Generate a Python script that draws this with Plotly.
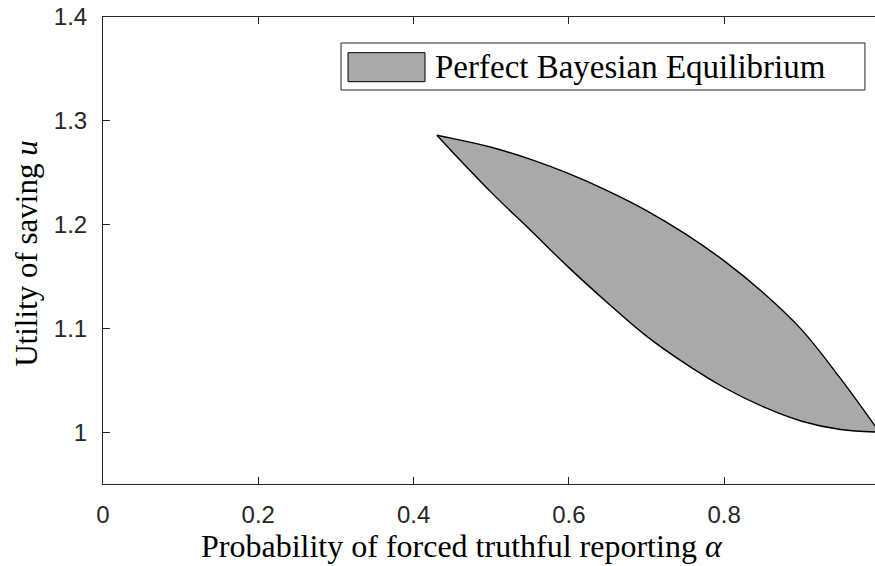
import plotly.graph_objects as go

# Equilibrium region boundaries: alpha (forced truthful reporting) vs u (utility of saving)
alpha_upper = [0.43, 0.45, 0.50, 0.55, 0.60, 0.65, 0.70, 0.75, 0.80, 0.85, 0.90, 0.95, 1.00]
u_upper = [1.286, 1.283, 1.2745, 1.263, 1.249, 1.2325, 1.2135, 1.191, 1.165, 1.1345, 1.0985, 1.0515, 1.000]

alpha_lower = [0.43, 0.45, 0.50, 0.55, 0.60, 0.65, 0.70, 0.75, 0.80, 0.85, 0.90, 0.95, 1.00]
u_lower = [1.286, 1.270, 1.231, 1.195, 1.1585, 1.1245, 1.0925, 1.066, 1.043, 1.0245, 1.0105, 1.0025, 1.000]

x_ticks = [0, 0.2, 0.4, 0.6, 0.8]
x_tick_text = ["0", "0.2", "0.4", "0.6", "0.8"]
y_ticks = [1.0, 1.1, 1.2, 1.3, 1.4]
y_tick_text = ["1", "1.1", "1.2", "1.3", "1.4"]

legend_label = "Perfect Bayesian Equilibrium"
x_title = "Probability of forced truthful reporting <i>α</i>"
y_title = "Utility of saving <i>u</i>"

W, H = 875, 566
L, T, B = 103, 17, 82
X_MAX = 0.9943  # right edge of the visible axes
Y_RANGE = [0.95, 1.4]

AX = "#262626"
FILL = "#A9A9A9"
SANS = "Liberation Sans, Arial, sans-serif"
SERIF = "Liberation Serif, Times New Roman, serif"

fig = go.Figure()
# lower boundary first, then upper boundary filled back down to it
fig.add_trace(go.Scatter(
    x=alpha_lower, y=u_lower, mode="lines",
    line=dict(color="black", width=1.4, shape="spline", smoothing=1.0),
    showlegend=False, hoverinfo="skip",
))
fig.add_trace(go.Scatter(
    x=alpha_upper, y=u_upper, mode="lines", fill="tonexty", fillcolor=FILL,
    line=dict(color="black", width=1.4, shape="spline", smoothing=1.0),
    showlegend=False, hoverinfo="skip",
))

fig.update_layout(
    width=W, height=H,
    margin=dict(l=L, r=0, t=T, b=B, pad=0),
    paper_bgcolor="white", plot_bgcolor="white",
    showlegend=False,
    xaxis=dict(
        range=[0, X_MAX], tickvals=x_ticks, ticktext=x_tick_text,
        ticks="inside", ticklen=7, tickcolor=AX, tickwidth=1,
        showline=True, linecolor=AX, linewidth=1, mirror="ticks",
        showgrid=False, zeroline=False,
        tickfont=dict(family=SANS, size=24, color=AX),
        ticklabelstandoff=9,
    ),
    yaxis=dict(
        range=Y_RANGE, tickvals=y_ticks, ticktext=y_tick_text,
        ticks="inside", ticklen=7, tickcolor=AX, tickwidth=1,
        showline=True, linecolor=AX, linewidth=1,
        showgrid=False, zeroline=False,
        tickfont=dict(family=SANS, size=24, color=AX),
        ticklabelstandoff=10,
    ),
    yaxis2=dict(
        range=Y_RANGE, tickvals=y_ticks, overlaying="y", side="right",
        ticks="inside", ticklen=7, tickcolor=AX, tickwidth=1,
        showline=False, showgrid=False, zeroline=False, showticklabels=False,
    ),
)

# Axis titles, centred on the full (uncropped) axes
fig.add_annotation(
    x=0.4644, y=0, xref="paper", yref="paper", yshift=-62, xanchor="center", yanchor="middle",
    text=x_title, showarrow=False, font=dict(family=SERIF, size=32, color="black"),
)
fig.add_annotation(
    x=-0.100, y=0.4925, xref="paper", yref="paper", xanchor="center", yanchor="middle",
    text=y_title, textangle=-90, showarrow=False, font=dict(family=SERIF, size=31, color="black"),
)

# Last x tick label sits at alpha = 1, just past the visible edge
fig.add_annotation(
    x=1.0, y=0, xref="x", yref="paper", yshift=-31, yanchor="middle",
    text="1", showarrow=False, font=dict(family=SANS, size=24, color=AX),
)

# Legend box drawn in paper coordinates
fig.add_shape(type="rect", xref="paper", yref="paper",
              x0=0.3083, x1=0.987, y0=0.8437, y1=0.9443,
              line=dict(color=AX, width=1), fillcolor="white", layer="above")
fig.add_shape(type="rect", xref="paper", yref="paper",
              x0=0.3174, x1=0.4171, y0=0.8615, y1=0.9236,
              line=dict(color="black", width=1), fillcolor=FILL, layer="above")
fig.add_annotation(
    x=0.4275, y=0.894, xref="paper", yref="paper", xanchor="left", yanchor="middle",
    text=legend_label, showarrow=False, font=dict(family=SERIF, size=33, color="black"),
)

fig.write_html("out.html")
